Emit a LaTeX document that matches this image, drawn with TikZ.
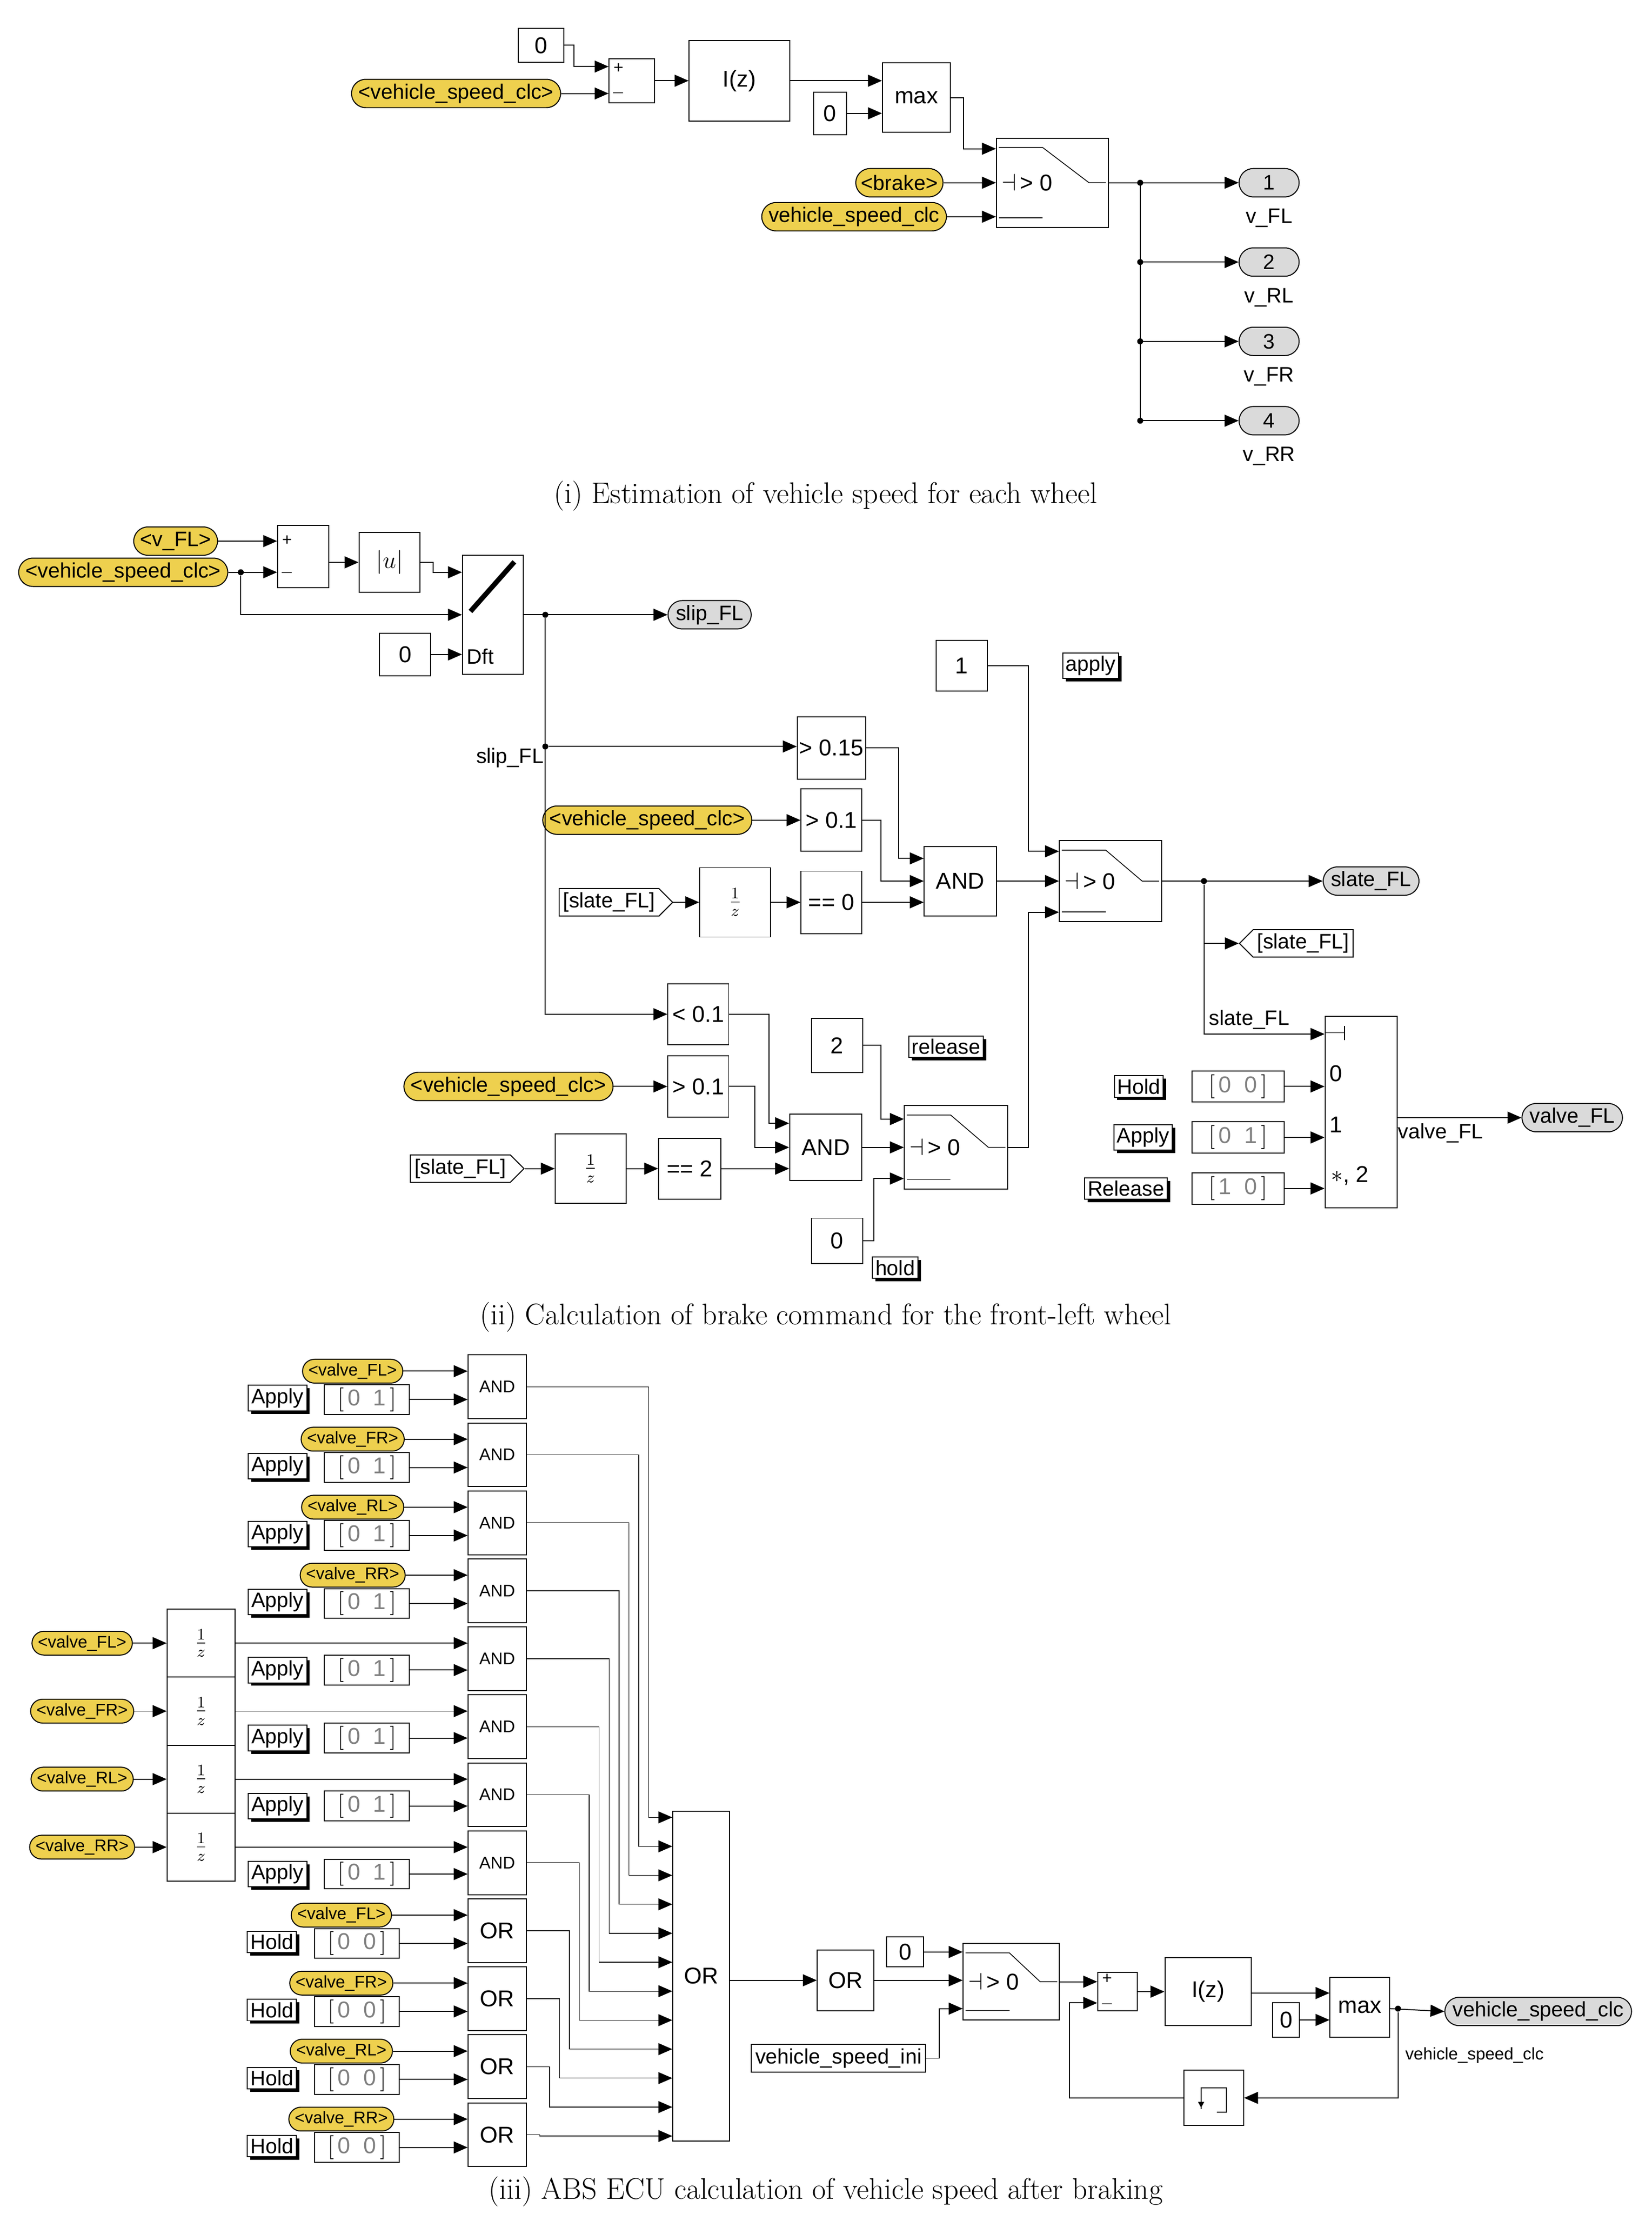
\documentclass[tikz,border=0pt]{standalone}
\usepackage{fontspec}
\setsansfont{Liberation Sans}
\usetikzlibrary{arrows.meta,shapes.misc,shapes.symbols,shadows,calc}
\definecolor{tagy}{RGB}{238,208,78}
\definecolor{portg}{RGB}{218,218,218}
\newcommand{\fb}{\fontsize{11.5}{13}\selectfont\sffamily}
\newcommand{\fs}{\fontsize{10.5}{12}\selectfont\sffamily}
\newcommand{\ft}{\fontsize{8.5}{10}\selectfont\sffamily}
\tikzset{
  ar/.style={-{Triangle[length=7pt,width=6pt]}},
  blk/.style={draw, fill=white, inner sep=1pt, font=\fb},
  tag/.style={rounded rectangle, draw, fill=tagy, inner sep=1.5pt, minimum height=0.5cm, font=\fs},
  outp/.style={rounded rectangle, draw, fill=portg, inner sep=2pt, minimum height=0.5cm, font=\fs, minimum width=1.2cm},
  lab/.style={draw, fill=white, inner sep=1.5pt, font=\fs, drop shadow={shadow xshift=1.5pt, shadow yshift=-1.5pt, fill=black, opacity=1}},
  frm/.style={signal, draw, fill=white, signal to=east, inner sep=2pt, font=\fs},
  gto/.style={signal, draw, fill=white, signal to=west, inner sep=2pt, font=\fs},
  txt/.style={font=\fs, inner sep=1pt},
  captxt/.style={font=\fontsize{15}{17}\selectfont},
  dot/.style={circle, fill, inner sep=0pt, minimum size=3pt}
}
\newcommand{\bk}[6]{\node[blk,minimum width=#4*0.025cm,minimum height=#5*0.025cm] (#1) at (#2,#3) {#6};}
\newcommand{\swg}[1]{%
  \draw[thin] ($(#1.north west)+(2,7)$) -- ++(31,0) -- ($(#1.east)+(-14,0)$) -- ($(#1.east)+(-2,0)$);
  \draw[thin] ($(#1.south west)+(2,-7)$) -- ++(31,0);
  \node[font=\fb, inner sep=0pt] at ($(#1.west)+(22,0)$) {$\dashv$\,> 0};}
\newcommand{\sgn}[2]{%
  \node[font=\ft, inner sep=0pt] at ($(#1.north west)+(7,#2)$) {+};
  \node[font=\ft, inner sep=0pt] at ($(#1.south west)+(7,-#2)$) {$-$};}
\newcommand{\kv}[2]{$\big[$\,\textcolor{gray}{#1\ \ #2}\,$\big]$}
\begin{document}
\begin{tikzpicture}[x=0.025cm, y=-0.025cm, line width=0.5pt]
\useasboundingbox (0,0) rectangle (1166,1563);
% (i) vehicle speed per wheel
\bk{cz1}{382}{32}{32}{24}{0}
\node[tag] (vs1) at (322,66) {<vehicle\_speed\_clc>};
\bk{sum1}{446}{57}{32}{31}{}
\sgn{sum1}{7}
\bk{iz1}{522}{57}{71}{57}{I(z)}
\bk{cz2}{586}{80}{23}{30}{0}
\bk{max1}{647}{69}{48}{49}{max}
\bk{sw1}{743}{129}{79}{63}{}
\swg{sw1}
\node[tag] (brk) at (635,129) {<brake>};
\node[tag] (vs2) at (603,153) {vehicle\_speed\_clc};
\draw[ar] (cz1.east) -- ++(7,0) |- (sum1.west |- 0,47);
\draw[ar] (vs1.east) -- (sum1.west |- vs1.east);
\draw[ar] (sum1.east) -- (iz1.west);
\draw[ar] (iz1.east |- 0,57) -- (max1.west |- 0,57);
\draw[ar] (cz2.east) -- (max1.west |- cz2.east);
\draw[ar] (max1.east) -- ++(9,0) |- (sw1.west |- 0,105);
\draw[ar] (brk.east) -- (sw1.west |- brk.east);
\draw[ar] (vs2.east) -- (sw1.west |- vs2.east);
\coordinate (j1) at (805,129);
\foreach \n/\w/\y in {1/FL/129,2/RL/185,3/FR/241,4/RR/297}{
  \node[outp] (p\n) at (896,\y) {\n};
  \node[txt] at (896,\y+25) {v\_\w};
  \draw[ar] (j1 |- p\n) -- (p\n.west);
  \node[dot] at (j1 |- p\n) {};
}
\draw (sw1.east) -- (j1) -- (j1 |- p4);
\node[captxt] at (583,350) {(i) Estimation of vehicle speed for each wheel};
% (ii) brake command front-left
\node[tag] (vfl) at (124,382) {<v\_FL>};
\node[tag] (vs3) at (87,404) {<vehicle\_speed\_clc>};
\bk{sum2}{214}{393}{36}{44}{}
\sgn{sum2}{11}
\bk{absu}{275}{397}{43}{42}{$|u|$}
\bk{lk}{348}{434}{43}{84}{}
\draw[line width=2.5pt] ($(lk.north west)+(6,40)$) -- ($(lk.north west)+(37,5)$);
\node[font=\fs] at ($(lk.south west)+(13,-13)$) {Dft};
\bk{cz3}{286}{462}{36}{30}{0}
\node[outp] (slp) at (501,434) {slip\_FL};
\draw[ar] (vfl.east) -- (sum2.west |- vfl.east);
\draw[ar] (vs3.east) -- (sum2.west |- vs3.east);
\node[dot] (j2) at (170,404) {};
\draw[ar] (j2) |- (lk.west);
\draw[ar] (sum2.east |- absu.west) -- (absu.west);
\draw[ar] (absu.east) -- ++(9,0) |- (lk.west |- 0,404);
\draw[ar] (cz3.east) -- (lk.west |- cz3.east);
\draw[ar] (lk.east) -- (slp.west);
\node[dot] (j3) at (385,434) {};
\node[dot] (j4) at (385,527) {};
\node[txt] at (360,535) {slip\_FL};
\bk{g15}{587}{528}{43}{44}{> 0.15}
\bk{c1}{679}{470}{36}{36}{1}
\node[lab] (lap) at (770,470) {apply};
\node[tag] (vs4) at (457,579) {<vehicle\_speed\_clc>};
\bk{g01}{587}{579}{43}{44}{> 0.1}
\node[frm] (sf1) at (430,637) {[slate\_FL]};
\bk{ud1}{519}{637}{50}{49}{$\frac{1}{z}$}
\bk{eq0}{587}{637}{43}{44}{== 0}
\bk{and1}{678}{622}{51}{49}{AND}
\bk{sw2}{784}{622}{72}{57}{}
\swg{sw2}
\node[outp] (sfo) at (968,622) {slate\_FL};
\node[gto] (sfg) at (920,666) {[slate\_FL]};
\draw[ar] (j4) -- (g15.west |- j4);
\draw[ar] (vs4.east) -- (g01.west);
\draw[ar] (sf1.east) -- (ud1.west);
\draw[ar] (ud1.east) -- (eq0.west);
\draw[ar] (g15.east) -- ++(23,0) |- (and1.west |- 0,606);
\draw[ar] (g01.east) -- ++(13,0) |- (and1.west |- 0,622);
\draw[ar] (eq0.east) -- (and1.west |- eq0.east);
\draw[ar] (c1.east) -- (726,470) |- (sw2.west |- 0,601);
\draw[ar] (and1.east) -- (sw2.west);
\node[dot] (j5) at (850,622) {};
\draw[ar] (sw2.east) -- (sfo.west);
\draw[ar] (j5) |- (sfg.west);
\node[txt] at (882,720) {slate\_FL};
\bk{mp}{961}{785}{51}{135}{}
\draw[ar] (j5) |- (mp.west |- 0,730);
\draw[thin] ($(mp.north west)+(0,12)$) -- ++(14,0) ++(0,-5) -- ++(0,10);
\node[font=\fb] at (943,758) {0};
\node[font=\fb] at (943,794) {1};
\node[font=\fb] at (953,830) {$\ast$, 2};
\foreach \n/\t/\x/\y/\a/\b in {h/Hold/804/767/0/0, a/Apply/807/803/0/1, r/Release/795/839/1/0}{
  \node[lab] (l\n) at (\x,\y) {\t};
  \bk{k\n}{874}{\y}{65}{22}{\kv{\a}{\b}}
  \draw[ar] (k\n.east) -- (mp.west |- k\n.east);
}
\node[outp] (vfo) at (1110,789) {valve\_FL};
\draw[ar] (mp.east |- vfo) -- (vfo.west);
\node[txt] at (1017,800) {valve\_FL};
\bk{lt}{493}{716}{43}{43}{< 0.1}
\bk{c2}{591}{738}{36}{38}{2}
\node[lab] (lre) at (668,739) {release};
\node[tag] (vs5) at (359,767) {<vehicle\_speed\_clc>};
\bk{g01b}{493}{767}{43}{43}{> 0.1}
\node[frm] (sf2) at (325,825) {[slate\_FL]};
\bk{ud2}{417}{825}{50}{49}{$\frac{1}{z}$}
\bk{eq2}{487}{825}{44}{43}{== 2}
\bk{and2}{583}{810}{51}{47}{AND}
\bk{sw3}{675}{810}{73}{59}{}
\swg{sw3}
\bk{c0b}{591}{876}{36}{32}{0}
\node[lab] (lho) at (632,895) {hold};
\draw[ar] (j3) |- (lt.west);
\draw[ar] (vs5.east) -- (g01b.west);
\draw[ar] (sf2.east) -- (ud2.west);
\draw[ar] (ud2.east) -- (eq2.west);
\draw[ar] (lt.east) -- (543,716) |- (and2.west |- 0,793);
\draw[ar] (g01b.east) -- (533,767) |- (and2.west |- 0,810);
\draw[ar] (eq2.east) -- (and2.west |- eq2.east);
\draw[ar] (c2.east) -- (622,738) |- (sw3.west |- 0,790);
\draw[ar] (and2.east) -- (sw3.west);
\draw[ar] (c0b.east) -- (617,876) |- (sw3.west |- 0,832);
\draw[ar] (sw3.east) -- (726,810) |- (sw2.west |- 0,644);
\node[captxt] at (583,930) {(ii) Calculation of brake command for the front-left wheel};
% (iii) vehicle speed after braking
\bk{bor}{495}{1395}{40}{233}{OR}
\foreach \i/\t in {0/FL,1/FR,2/RL,3/RR}{
  \pgfmathsetmacro\yy{979+48*\i}
  \node[tag, font=\ft, minimum height=0.42cm] (ta\i) at (249,\yy-11) {<valve\_\t>};
  \node[lab] (la\i) at (196,\yy+8) {Apply};
  \bk{ka\i}{259}{\yy+9}{60}{21}{\kv{0}{1}}
  \bk{g\i}{351}{\yy}{41}{45}{\ft AND}
  \draw[ar] (ta\i.east) -- (g\i.west |- ta\i.east);
  \draw[ar] (ka\i.east) -- (g\i.west |- ka\i.east);
}
\foreach \i/\t in {4/FL,5/FR,6/RL,7/RR}{
  \pgfmathsetmacro\yy{979+48*\i}
  \node[tag, font=\ft, minimum height=0.42cm] (ta\i) at (58,\yy-11) {<valve\_\t>};
  \bk{ud\i}{142}{\yy-11}{48}{48}{$\frac{1}{z}$}
  \node[lab] (la\i) at (196,\yy+8) {Apply};
  \bk{ka\i}{259}{\yy+8}{60}{21}{\kv{0}{1}}
  \bk{g\i}{351}{\yy}{41}{45}{\ft AND}
  \draw[ar] (ta\i.east) -- (ud\i.west);
  \draw[ar] (ud\i.east) -- (g\i.west |- ud\i.east);
  \draw[ar] (ka\i.east) -- (g\i.west |- ka\i.east);
}
\foreach \i/\t in {8/FL,9/FR,10/RL,11/RR}{
  \pgfmathsetmacro\yy{979+48*\i}
  \node[tag, font=\ft, minimum height=0.42cm] (ta\i) at (241,\yy-11) {<valve\_\t>};
  \node[lab] (la\i) at (192,\yy+8) {Hold};
  \bk{ka\i}{252}{\yy+9}{60}{21}{\kv{0}{0}}
  \bk{g\i}{351}{\yy}{41}{45}{OR}
  \draw[ar] (ta\i.east) -- (g\i.west |- ta\i.east);
  \draw[ar] (ka\i.east) -- (g\i.west |- ka\i.east);
}
\foreach \i in {0,...,11}{
  \pgfmathsetmacro\yc{979+48*\i}
  \pgfmathsetmacro\yi{1283+20.45*\i}
  \pgfmathsetmacro\xx{458-7*\i}
  \draw[ar, line width=0.35pt] (g\i.east) -- (\xx,\yc) -- (\xx,\yi) -- (bor.west |- 0,\yi);
}
\bk{or2}{597}{1398}{40}{43}{OR}
\bk{cz4}{639}{1378}{26}{21}{0}
\bk{sw4}{714}{1399}{68}{54}{}
\swg{sw4}
\node[blk, font=\fs, inner sep=2pt] (vsi) at (592,1453) {vehicle\_speed\_ini};
\bk{sum3}{789}{1406}{28}{27}{}
\sgn{sum3}{5}
\bk{iz2}{853}{1406}{61}{48}{I(z)}
\bk{cz5}{908}{1426}{19}{24}{0}
\bk{max2}{960}{1417}{42}{42}{max}
\node[outp] (vso) at (1086,1420) {vehicle\_speed\_clc};
\node[txt, font=\ft] at (1041,1451) {vehicle\_speed\_clc};
\bk{mem}{857}{1481}{42}{39}{}
\draw ($(mem.center)+(-9,8)$) -- ++(0,-15) -- ++(18,0) -- ++(0,17) -- ++(-7,0);
\draw[-{Triangle[length=3pt,width=3pt]}] ($(mem.center)+(-9,-7)$) -- ++(0,14);
\draw[ar] (bor.east |- or2) -- (or2.west);
\draw[ar] (or2.east) -- (sw4.west |- or2.east);
\draw[ar] (cz4.east) -- (sw4.west |- cz4.east);
\draw[ar] (vsi.east) -- (663,1453) |- (sw4.west |- 0,1418);
\draw[ar] (sw4.east) -- (sum3.west |- sw4.east);
\draw[ar] (sum3.east) -- (iz2.west);
\draw[ar] (iz2.east |- 0,1407) -- (max2.west |- 0,1407);
\draw[ar] (cz5.east) -- (max2.west |- cz5.east);
\node[dot] (j6) at (987,1418) {};
\draw[ar] (max2.east |- j6) -- (vso.west);
\draw[ar] (j6) |- (mem.east);
\draw[ar] (mem.west) -- (755,1481) |- (sum3.west |- 0,1414);
\node[captxt] at (583,1547) {(iii) ABS ECU calculation of vehicle speed after braking};
\end{tikzpicture}
\end{document}
